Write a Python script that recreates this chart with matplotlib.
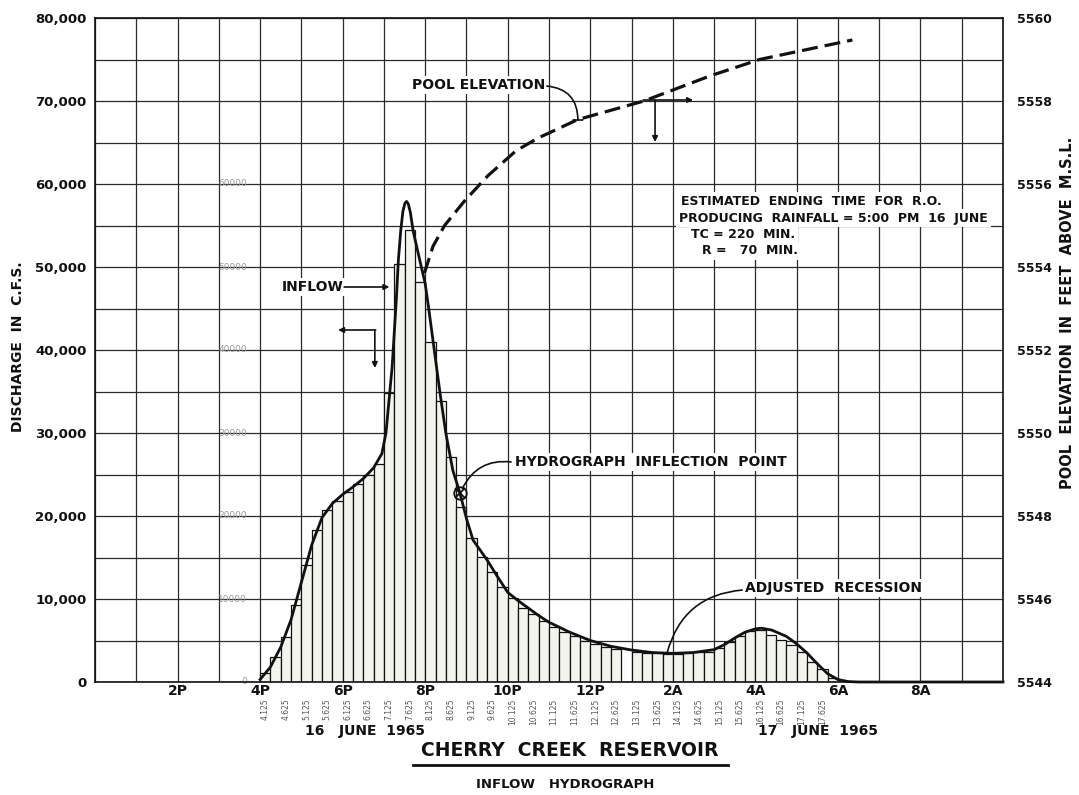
import numpy as np
import matplotlib.pyplot as plt
from matplotlib.lines import Line2D

# hours are counted from noon of 16 June (12 = noon, 24 = midnight, 30 = 6 AM 17 June)
hour_ticks = [14, 16, 18, 20, 22, 24, 26, 28, 30, 32]
hour_labels = ["2P", "4P", "6P", "8P", "10P", "12P", "2A", "4A", "6A", "8A"]

# 15-minute inflow blocks starting at 4 PM
bar_start = 16.0
bar_width = 0.25
inflow_cfs = [1100, 3000, 5400, 9300, 14100, 18300, 20700, 21850, 22900, 23900,
              25000, 26250, 34800, 50400, 54500, 48200, 41000, 33900, 27150, 21100,
              17400, 15100, 13200, 11500, 10100, 8950, 8150, 7400, 6650, 6050,
              5550, 5000, 4550, 4250, 4000, 0, 3650, 3550, 3450, 3350,
              3350, 3450, 3600, 3650, 4050, 4850, 5550, 6200, 6250, 5650,
              5050, 4450, 3650, 2450, 1550, 450]

# mid-block times (hours after noon) written under every other block
block_labels = ["4.125", "4.625", "5.125", "5.625", "6.125", "6.625", "7.125",
                "7.625", "8.125", "8.625", "9.125", "9.625", "10.125", "10.625",
                "11.125", "11.625", "12.125", "12.625", "13.125", "13.625",
                "14.125", "14.625", "15.125", "15.625", "16.125", "16.625",
                "17.125", "17.625"]

# smoothed inflow hydrograph
curve_hours = [16.0, 16.25, 16.5, 16.75, 17.0, 17.25, 17.5, 17.75, 18.0, 18.25,
               18.5, 18.75, 18.95, 19.05, 19.2, 19.3, 19.35, 19.41, 19.46, 19.51,
               19.55, 19.59, 19.64, 19.71, 19.87, 20.0, 20.08, 20.22, 20.36, 20.5,
               20.67, 20.84, 21.0, 21.16, 21.5, 21.75, 22.0, 22.25, 22.5, 22.75,
               23.0, 23.5, 24.0, 24.5, 25.0, 25.5, 26.0, 26.5, 27.0, 27.25,
               27.5, 27.75, 28.0, 28.15, 28.4, 28.75, 29.0, 29.25, 29.5, 29.75,
               30.0, 30.25, 30.5, 34.0]
curve_cfs = [300, 1800, 4200, 7500, 12000, 16500, 19800, 21500, 22600, 23500,
             24500, 25800, 27500, 30000, 38000, 46000, 50800, 54500, 56700, 57700,
             57900, 57600, 56600, 54300, 50800, 48000, 45200, 40000, 34800, 30000,
             25500, 22800, 19700, 17100, 14700, 12700, 10800, 9800, 8900, 8000,
             7200, 6000, 5000, 4300, 3850, 3550, 3450, 3550, 3900, 4500,
             5300, 6000, 6400, 6480, 6250, 5500, 4600, 3500, 2200, 1000,
             300, 50, 0, 0]

# reservoir pool elevation, ft above M.S.L.
pool_hours = [19.98, 20.19, 20.47, 20.96, 21.52, 22.2, 22.72, 23.69, 25.3, 26.89, 28.1, 30.35]
pool_elev = [5553.85, 5554.5, 5555.0, 5555.6, 5556.2, 5556.8, 5557.1, 5557.55,
             5558.0, 5558.6, 5559.0, 5559.47]

inflection = (20.84, 22750)

faint_scale = ["60000", "50000", "40000", "30000", "20000", "10000", "0"]
faint_values = [60000, 50000, 40000, 30000, 20000, 10000, 0]

ink = "#111111"
plt.rcParams['font.family'] = 'DejaVu Sans'

fig = plt.figure(figsize=(10.79, 7.95), dpi=100)
ax = fig.add_axes([95 / 1079, 1 - 682 / 795, 908 / 1079, 664 / 795])
ax.set_xlim(12, 34)
ax.set_ylim(0, 80000)
ax.set_axisbelow(True)

# one grid line per hour and per 5,000 cfs
ax.set_xticks(np.arange(12, 35, 1))
ax.set_xticklabels([hour_labels[hour_ticks.index(h)] if h in hour_ticks else ""
                    for h in range(12, 35)], fontsize=10, fontweight='bold', color=ink)
yt = np.arange(0, 80001, 5000)
ax.set_yticks(yt)
ax.set_yticklabels(["{:,}".format(v) if v % 10000 == 0 else "" for v in yt],
                   fontsize=9.5, fontweight='bold', color=ink)
ax.tick_params(axis='both', length=0)
ax.tick_params(axis='x', pad=1.5)
ax.tick_params(axis='y', pad=6)
ax.grid(True, color='#2a2a2a', linewidth=0.9)
for s in ax.spines.values():
    s.set_color(ink)
    s.set_linewidth(1.2)

bar_left = bar_start + bar_width * np.arange(len(inflow_cfs))
ax.bar(bar_left, inflow_cfs, width=bar_width, align='edge', color='#f4f4ee',
       edgecolor=ink, linewidth=0.9, zorder=2)

ax.plot(curve_hours, curve_cfs, color=ink, linewidth=2.0, zorder=3, clip_on=False)

# inflection point marker
ax.plot(*inflection, marker='o', ms=9, mfc='none', mec=ink, mew=1.3, zorder=4)
ax.plot(*inflection, marker='x', ms=7, mec=ink, mew=1.3, zorder=4)

# block time labels under the axis
for lab in block_labels:
    ax.annotate(lab, xy=(12 + float(lab), 0), xytext=(0, -12), textcoords='offset points',
                rotation=90, ha='center', va='top', fontsize=5.5, color='#555555',
                annotation_clip=False)

# faint pencilled scale inside the grid
for lab, v in zip(faint_scale, faint_values):
    ax.text(15.68, v, lab, ha='right', va='center', fontsize=6.5, color='#9a9a9a', zorder=1)

box = dict(facecolor='white', edgecolor='none', pad=1.5)
tk = dict(fontsize=10, fontweight='bold', color=ink)

ax.text(16.53, 47590, "INFLOW", ha='left', va='center', bbox=box, zorder=5, **tk)
ax.annotate("", xy=(19.2, 47590), xytext=(17.97, 47590),
            arrowprops=dict(arrowstyle='-|>', color=ink, lw=1.2, mutation_scale=8), zorder=5)

# axis pointers for the inflow curve
ax.annotate("", xy=(17.89, 42410), xytext=(18.8, 42410),
            arrowprops=dict(arrowstyle='-|>', color=ink, lw=1.2, mutation_scale=8,
                            shrinkA=0, shrinkB=0), zorder=5)
ax.annotate("", xy=(18.78, 37830), xytext=(18.78, 42410),
            arrowprops=dict(arrowstyle='-|>', color=ink, lw=1.2, mutation_scale=8,
                            shrinkA=0, shrinkB=0), zorder=5)

# axis pointers for the pool elevation curve
ax.annotate("", xy=(26.49, 70120), xytext=(25.28, 70120),
            arrowprops=dict(arrowstyle='-|>', color=ink, lw=1.2, mutation_scale=8,
                            shrinkA=0, shrinkB=0), zorder=5)
ax.annotate("", xy=(25.57, 65060), xytext=(25.57, 70120),
            arrowprops=dict(arrowstyle='-|>', color=ink, lw=1.2, mutation_scale=8,
                            shrinkA=0, shrinkB=0), zorder=5)

ax.text(19.68, 71930, "POOL ELEVATION", ha='left', va='center', bbox=box, zorder=5, **tk)
ax.annotate("", xy=(23.7, 67710), xytext=(22.95, 71800),
            arrowprops=dict(arrowstyle='-[, widthB=0.35, lengthB=0', color=ink, lw=1.2,
                            connectionstyle='arc3,rad=-0.45', shrinkA=0, shrinkB=0), zorder=5)

ax.text(22.18, 26510, "HYDROGRAPH  INFLECTION  POINT", ha='left', va='center', bbox=box,
        zorder=5, **tk)
ax.annotate("", xy=(20.9, 23300), xytext=(22.08, 26510),
            arrowprops=dict(arrowstyle='-', color=ink, lw=1.2,
                            connectionstyle='arc3,rad=0.35', shrinkA=0, shrinkB=0), zorder=5)

ax.text(27.75, 11330, "ADJUSTED  RECESSION", ha='left', va='center', bbox=box, zorder=5, **tk)
ax.annotate("", xy=(25.86, 3490), xytext=(27.68, 11080),
            arrowprops=dict(arrowstyle='-', color=ink, lw=1.2,
                            connectionstyle='arc3,rad=0.35', shrinkA=0, shrinkB=0), zorder=5)

note = dict(fontsize=9, fontweight='bold', color=ink, ha='left', va='center',
            bbox=dict(facecolor='white', edgecolor='none', pad=2), zorder=5)
ax.text(26.2, 57950, "ESTIMATED  ENDING  TIME  FOR  R.O.", **note)
ax.text(26.15, 55900, "PRODUCING  RAINFALL = 5:00  PM  16  JUNE", **note)
ax.text(26.45, 53860, "TC = 220  MIN.", **note)
ax.text(26.7, 51930, "R =   70  MIN.", **note)

# pool elevation on the right-hand scale
ax2 = ax.twinx()
ax2.set_ylim(5544, 5560)
ax2.set_yticks(np.arange(5544, 5561, 2))
ax2.set_yticklabels([str(v) for v in range(5544, 5561, 2)], fontsize=9,
                    fontweight='bold', color=ink)
ax2.tick_params(axis='y', length=0, pad=10)
for s in ax2.spines.values():
    s.set_visible(False)
ax2.plot(pool_hours, pool_elev, color=ink, linewidth=2.3, linestyle=(0, (5, 2.2)))

fig.text(18 / 1079, 1 - 347 / 795, "DISCHARGE  IN  C.F.S.", rotation=90, ha='center',
         va='center', fontsize=10, fontweight='bold', color=ink)
fig.text(1067 / 1079, 1 - 313 / 795, "POOL  ELEVATION  IN  FEET  ABOVE  M.S.L.", rotation=90,
         ha='center', va='center', fontsize=10.5, fontweight='bold', color=ink)

fig.text(365 / 1079, 1 - 731 / 795, "16   JUNE  1965", ha='center', va='center',
         fontsize=10, fontweight='bold', color=ink)
fig.text(818 / 1079, 1 - 731 / 795, "17   JUNE  1965", ha='center', va='center',
         fontsize=10, fontweight='bold', color=ink)

fig.text(570 / 1079, 1 - 751 / 795, "CHERRY  CREEK  RESERVOIR", ha='center', va='center',
         fontsize=13.5, fontweight='bold', color=ink)
fig.add_artist(Line2D([413 / 1079, 728 / 1079], [1 - 765 / 795, 1 - 765 / 795],
                      color=ink, linewidth=2))
fig.text(565 / 1079, 1 - 785 / 795, "INFLOW   HYDROGRAPH", ha='center', va='center',
         fontsize=9.5, fontweight='bold', color=ink)

fig.savefig("out.png", dpi=100, facecolor='white')
